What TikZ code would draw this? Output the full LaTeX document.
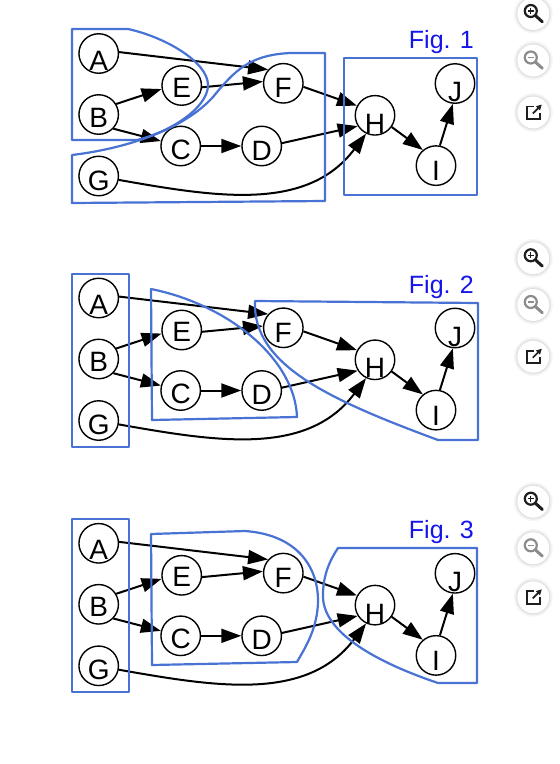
\documentclass[tikz,border=0pt]{standalone}
\usepackage{fontspec}
\setmainfont{Liberation Sans}
\usetikzlibrary{arrows.meta}
\definecolor{clus}{RGB}{72,114,212}
\definecolor{figblue}{RGB}{20,20,235}
\definecolor{icondark}{RGB}{30,30,30}
\definecolor{icongray}{RGB}{140,140,140}
\newcommand\gnodes[1]{%
  \node[nd,label={[lbl,yshift=-7pt]center:A}] (A#1) at (98.7,53.5) {};
  \node[nd,label={[lbl,yshift=-3pt]center:B}] (B#1) at (98.7,114.5) {};
  \node[nd,label={[lbl,yshift=-4.5pt]center:G}] (G#1) at (98.7,176) {};
  \node[nd,label={[lbl,yshift=-2pt]center:E}] (E#1) at (181.7,85.5) {};
  \node[nd,label={[lbl,yshift=-3.5pt]center:C}] (C#1) at (180.7,146) {};
  \node[nd,label={[lbl,yshift=-4.5pt]center:D}] (D#1) at (261.7,146) {};
  \node[nd,label={[lbl,yshift=-5pt]center:F}] (F#1) at (283.3,83.3) {};
  \node[nd,label={[lbl,yshift=-8.5pt]center:H}] (H#1) at (375,115.3) {};
  \node[nd,label={[lbl,yshift=-5.5pt]center:I}] (I#1) at (436,165.6) {};
  \node[nd,label={[lbl,yshift=-9pt]center:J}] (J#1) at (455,83.5) {};
  \draw[ed] (A#1.4) -- (F#1.138);
  \draw[ed] (E#1.-5) -- (F#1.175);
  \draw[ed] (B#1.31) -- (E#1.190);
  \draw[ed] (B#1.-44) -- (C#1.166);
  \draw[ed] (C#1) -- (D#1);
  \draw[ed] (F#1.-10) -- (H#1.152);
  \draw[ed] (D#1.8) -- (H#1.212);
  \draw[ed] (G#1.-11) to[out=-10,in=233] (H#1.244);
  \draw[ed] (H#1.-35) -- (I#1.130);
  \draw[ed] (I#1.79) -- (J#1.264);
}
\newcommand\btnbg{%
  \fill[black,opacity=0.035] (0,0) circle (19.5pt);
  \fill[black,opacity=0.045] (0,0) circle (18pt);
  \fill[black,opacity=0.06] (0,0) circle (16.8pt);
  \fill[white] (0,0) circle (16pt);
}
\newcommand\zoomin[1]{%
  \begin{scope}[shift={(#1)}]
    \btnbg
    \draw[icondark,line width=2.2pt] (-2.5,-3) circle (6pt);
    \draw[icondark,line width=3pt,line cap=round] (2.4,1.8) -- (9,7.8);
    \draw[icondark,line width=1.3pt] (-5.5,-3) -- (0.5,-3) (-2.5,-6) -- (-2.5,0);
  \end{scope}
}
\newcommand\zoomout[1]{%
  \begin{scope}[shift={(#1)}]
    \btnbg
    \draw[icongray,line width=2.2pt] (-2.5,-3) circle (6pt);
    \draw[icongray,line width=3pt,line cap=round] (2.4,1.8) -- (9,7.8);
    \draw[icongray,line width=1.3pt] (-5.5,-3) -- (0.5,-3);
  \end{scope}
}
\newcommand\extlink[1]{%
  \begin{scope}[shift={(#1)}]
    \btnbg
    \draw[icondark,line width=1.7pt] (0.5,-6) -- (-6,-6) -- (-6,6.5) -- (6.5,6.5) -- (6.5,0);
    \draw[icondark,line width=1.7pt,-{Triangle[length=5.5pt,width=5.5pt]}] (-0.5,1) -- (8.5,-8);
  \end{scope}
}
\begin{document}
\begin{tikzpicture}[x=1pt,y=-1pt,
  nd/.style={circle,draw,line width=1.4pt,minimum size=39.5pt,inner sep=0pt},
  lbl/.style={font=\fontsize{28}{30}\selectfont,inner sep=0pt},
  ed/.style={line width=2pt,-{Triangle[length=20pt,width=14pt]}},
  clu/.style={draw=clus,line width=2.2pt,line join=round},
  figlab/.style={text=figblue,font=\fontsize{25}{28}\selectfont,anchor=base east,inner sep=0pt}]
\useasboundingbox (0,0) rectangle (560,764);
\fill[white] (0,0) rectangle (560,764);

% graphs
\begin{scope}[shift={(0,0)}] \gnodes{a} \end{scope}
\begin{scope}[shift={(0,244.5)}] \gnodes{b} \end{scope}
\begin{scope}[shift={(0,489.8)}] \gnodes{c} \end{scope}

% Fig. 1 clusters
\draw[clu] (72,29) -- (128,29) .. controls (165,37) and (208,62) .. (208,85)
  .. controls (208,108) and (170,132) .. (137,140) -- (72,140) -- cycle;
\draw[clu] (72,203) -- (72,155) .. controls (130,148) and (185,128) .. (213,97)
  .. controls (235,70) and (250,55) .. (290,53) -- (325,53) -- (325,201) -- cycle;
\draw[clu] (344,58) rectangle (477,195);
\node[figlab] (fig1) at (474,48) {Fig. 1};

% Fig. 2 clusters
\draw[clu] (72,274) rectangle (129,447);
\draw[clu] (151,289) .. controls (230,305) and (295,360) .. (297,417) -- (152,420) -- cycle;
\draw[clu] (255,301) -- (478,303) -- (478,440) -- (438,440)
  .. controls (330,400) and (252,365) .. (255,301) -- cycle;
\node[figlab] (fig2) at (474,293) {Fig. 2};

% Fig. 3 clusters
\draw[clu] (72,519) rectangle (129,692);
\draw[clu] (151,534) -- (245,531) .. controls (300,535) and (318,570) .. (318,600)
  .. controls (318,628) and (305,648) .. (297,662) -- (152,665) -- cycle;
\draw[clu] (338,548) -- (477,548) -- (477,683) -- (438,683)
  .. controls (370,660) and (322,630) .. (323,595)
  .. controls (323,575) and (330,560) .. (338,548) -- cycle;
\node[figlab] (fig3) at (474,538) {Fig. 3};

% buttons
\zoomin{533.3,14} \zoomout{533.3,60.5} \extlink{533.3,112.5}
\zoomin{533.3,258.3} \zoomout{533.3,305} \extlink{533.3,356.7}
\zoomin{533.3,501.7} \zoomout{533.3,548.3} \extlink{533.3,597.3}
\end{tikzpicture}
\end{document}
